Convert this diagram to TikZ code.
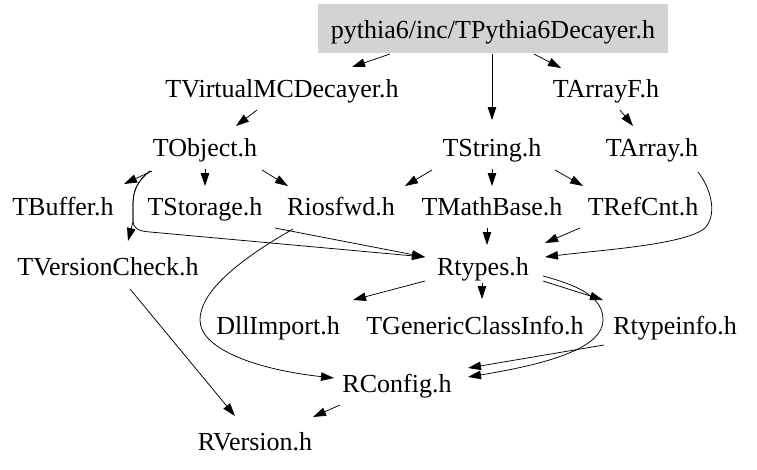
\documentclass[tikz,border=0pt]{standalone}
\usepackage{fontspec}
\setmainfont{Liberation Serif}
\usetikzlibrary{arrows.meta,calc}
\definecolor{boxgray}{RGB}{211,211,211}
\begin{document}
\begin{tikzpicture}[x=1pt,y=-1pt,
  lbl/.style={anchor=base,inner sep=0pt,font=\fontsize{26}{30}\selectfont},
  edge/.style={line width=0.75pt,-{Triangle[length=13pt,width=8.5pt]}}]
\useasboundingbox (0,0) rectangle (757,469);
% nodes
\node[lbl,fill=boxgray,inner xsep=13pt,text height=34pt,text depth=15pt] (top) at (493,38) {pythia6/inc/TPythia6Decayer.h};
\node[lbl] (vmc) at (282,97) {TVirtualMCDecayer.h};
\node[lbl] (arrf) at (606,97) {TArrayF.h};
\node[lbl] (tobj) at (205,156) {TObject.h};
\node[lbl] (tstr) at (492,156) {TString.h};
\node[lbl] (tarr) at (652,156) {TArray.h};
\node[lbl] (tbuf) at (63,215) {TBuffer.h};
\node[lbl] (tsto) at (205,215) {TStorage.h};
\node[lbl] (rios) at (341,215) {Riosfwd.h};
\node[lbl] (tmath) at (492,215) {TMathBase.h};
\node[lbl] (tref) at (643,215) {TRefCnt.h};
\node[lbl] (tver) at (108,275) {TVersionCheck.h};
\node[lbl] (rtyp) at (483,275) {Rtypes.h};
\node[lbl] (dll) at (278,334) {DllImport.h};
\node[lbl] (tgen) at (475,334) {TGenericClassInfo.h};
\node[lbl] (rinfo) at (675,334) {Rtypeinfo.h};
\node[lbl] (rconf) at (397,392) {RConfig.h};
\node[lbl] (rver) at (255,450) {RVersion.h};
% edges
\draw[edge] ($(top.base)+(-103,16)$) -- ($(vmc.base)+(70,-30)$);
\draw[edge] ($(top.base)+(-1,16)$) -- ($(tstr.base)+(0,-36)$);
\draw[edge] ($(top.base)+(41,16)$) -- ($(arrf.base)+(-45,-29)$);
\draw[edge] ($(vmc.base)+(-25,13)$) -- ($(tobj.base)+(31,-30)$);
\draw[edge] ($(arrf.base)+(14,13)$) -- ($(tarr.base)+(-19,-30)$);
\draw[edge] ($(tobj.base)+(-53,15)$) -- ($(tbuf.base)+(61,-31)$);
\draw[edge] ($(tobj.base)+(0,13)$) -- ($(tsto.base)+(0,-29)$);
\draw[edge] ($(tobj.base)+(57,14)$) -- ($(rios.base)+(-53,-29)$);
\draw[edge] ($(tobj.base)+(-55,15)$) .. controls ($(tobj.base)+(-69,26)$) and ($(tobj.base)+(-72,36)$) .. ($(tobj.base)+(-72,49)$) -- ($(tobj.base)+(-72,66)$) -- ($(tver.base)+(20,-34)$);
\draw[edge] ($(tobj.base)+(-55,15)$) .. controls ($(tobj.base)+(-69,26)$) and ($(tobj.base)+(-72,36)$) .. ($(tobj.base)+(-72,49)$) -- ($(tobj.base)+(-72,64)$) .. controls ($(tobj.base)+(-72,72)$) and ($(tobj.base)+(-68,75)$) .. ($(tobj.base)+(-55,76)$) -- ($(rtyp.base)+(-58,-18)$);
\draw[edge] ($(tsto.base)+(70,13)$) -- ($(rtyp.base)+(-58,-18)$);
\draw[edge] ($(rios.base)+(-48,14)$) .. controls ($(rios.base)+(-111,50)$) and ($(rios.base)+(-141,80)$) .. ($(rios.base)+(-141,105)$) .. controls ($(rios.base)+(-141,135)$) and ($(rconf.base)+(-137,-22)$) .. ($(rconf.base)+(-63,-14)$);
\draw[edge] ($(tstr.base)+(-60,14)$) -- ($(rios.base)+(64,-29)$);
\draw[edge] ($(tstr.base)+(0,13)$) -- ($(tmath.base)+(0,-29)$);
\draw[edge] ($(tstr.base)+(63,14)$) -- ($(tref.base)+(-60,-29)$);
\draw[edge] ($(tarr.base)+(46,16)$) .. controls ($(tarr.base)+(60,34)$) and ($(tarr.base)+(65,59)$) .. ($(tarr.base)+(53,72)$) .. controls ($(rtyp.base)+(202,-30)$) and ($(rtyp.base)+(117,-25)$) .. ($(rtyp.base)+(62,-18)$);
\draw[edge] ($(tref.base)+(-63,13)$) -- ($(rtyp.base)+(62,-32)$);
\draw[edge] ($(tmath.base)+(-5,13)$) -- ($(rtyp.base)+(4,-30)$);
\draw[edge] ($(rtyp.base)+(-58,6)$) -- ($(dll.base)+(75,-34)$);
\draw[edge] ($(rtyp.base)+(-1,8)$) -- ($(tgen.base)+(7,-35)$);
\draw[edge] ($(rtyp.base)+(60,6)$) -- ($(rinfo.base)+(-72,-34)$);
\draw[edge] ($(rtyp.base)+(60,1)$) .. controls ($(rtyp.base)+(102,12)$) and ($(rtyp.base)+(120,25)$) .. ($(rtyp.base)+(120,45)$) .. controls ($(rconf.base)+(206,-47)$) and ($(rconf.base)+(163,-30)$) .. ($(rconf.base)+(71,-15)$);
\draw[edge] ($(rinfo.base)+(-71,11)$) -- ($(rconf.base)+(71,-24)$);
\draw[edge] ($(tver.base)+(22,14)$) -- ($(rver.base)+(-20,-34)$);
\draw[edge] ($(rconf.base)+(-57,13)$) -- ($(rver.base)+(58,-33)$);
\end{tikzpicture}
\end{document}
